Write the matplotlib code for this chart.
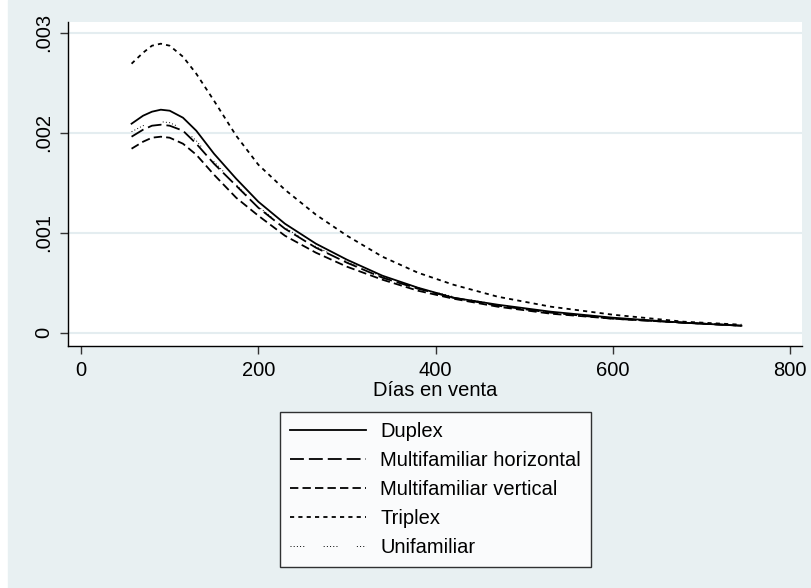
import matplotlib
matplotlib.use("Agg")
import matplotlib.pyplot as plt
from matplotlib.patches import Rectangle

plt.rcParams['font.family'] = ['Liberation Sans', 'DejaVu Sans']
plt.rcParams['lines.scale_dashes'] = False

# data (kernel density of days on sale)
dias = [57, 70, 80, 90, 100, 115, 130, 150, 175, 200, 230, 265, 300, 340, 380, 420, 470, 530, 600, 680, 745]
duplex = [0.00209, 0.00217, 0.00221, 0.00223, 0.00222, 0.00215, 0.00202, 0.00179, 0.00154, 0.00131, 0.00109,
          0.00089, 0.00073, 0.00057, 0.00045, 0.00035, 0.00028, 0.00021, 0.00015, 0.00010, 0.00007]
multi_horiz = [0.00196, 0.00203, 0.00207, 0.00208, 0.00207, 0.00202, 0.00189, 0.00169, 0.00147, 0.00125, 0.00104,
               0.00085, 0.00070, 0.00055, 0.00044, 0.00035, 0.00027, 0.00020, 0.00014, 0.00010, 0.00007]
multi_vert = [0.00184, 0.00191, 0.00195, 0.00196, 0.00195, 0.00189, 0.00178, 0.00158, 0.00135, 0.00117, 0.00097,
              0.00080, 0.00066, 0.00053, 0.00042, 0.00034, 0.00026, 0.00019, 0.00014, 0.00010, 0.00007]
triplex = [0.00269, 0.00280, 0.00287, 0.00289, 0.00287, 0.00276, 0.00259, 0.00232, 0.00197, 0.00168, 0.00143,
           0.00118, 0.00097, 0.00076, 0.00060, 0.00048, 0.00036, 0.00026, 0.00018, 0.00011, 0.00008]
unifamiliar = [0.00201, 0.00207, 0.00210, 0.00211, 0.00210, 0.00204, 0.00192, 0.00171, 0.00148, 0.00126, 0.00105,
               0.00086, 0.00071, 0.00056, 0.00045, 0.00036, 0.00028, 0.00020, 0.00014, 0.00010, 0.00007]

xticks = [0, 200, 400, 600, 800]
yticks = [0, 0.001, 0.002, 0.003]
ylabels = ['0', '.001', '.002', '.003']

bg = '#e8f0f2'

fig = plt.figure(figsize=(8.12, 5.88), dpi=100, facecolor='white')
fig.add_artist(Rectangle((8 / 812, 0), 1, 1, transform=fig.transFigure, color=bg, zorder=-10))

ax = fig.add_axes([68 / 812, 1 - 346 / 588, (802 - 68) / 812, (346 - 22) / 588])
ax.set_facecolor('white')

ax.plot(dias, duplex, color='black', lw=1.3, label='Duplex')
ax.plot(dias, multi_horiz, color='black', lw=1.3, dashes=(10, 3.6), label='Multifamiliar horizontal')
ax.plot(dias, multi_vert, color='black', lw=1.3, dashes=(6, 3), label='Multifamiliar vertical')
ax.plot(dias, triplex, color='black', lw=1.3, dashes=(3, 3), label='Triplex')
ax.plot(dias, unifamiliar, color='black', lw=0.7,
        dashes=(0.7, 1.6, 0.7, 1.6, 0.7, 1.6, 0.7, 1.6, 0.7, 14), label='Unifamiliar')

ax.set_xlim(-14.7, 813.3)
ax.set_ylim(-0.000133, 0.003107)
ax.set_xticks(xticks)
ax.set_yticks(yticks)
ax.set_yticklabels(ylabels, rotation=90, va='center')
ax.tick_params(labelsize=14.5, length=5.5, width=1, color='#333333', pad=5)
ax.grid(axis='y', color='#e4edf0', lw=1.5)
ax.set_axisbelow(True)
for s in ['top', 'right']:
    ax.spines[s].set_visible(False)
for s in ['left', 'bottom']:
    ax.spines[s].set_linewidth(1)

ax.set_xlabel('Días en venta', fontsize=14.5, labelpad=1)

leg = ax.legend(loc='upper center', bbox_to_anchor=(435.5 / 812, 1 - 412 / 588), bbox_transform=fig.transFigure,
                fontsize=14.5, frameon=True, fancybox=False, edgecolor='black', handlelength=3.8,
                handletextpad=0.7, labelspacing=0.5, borderpad=0.5, borderaxespad=0)
leg.get_frame().set_linewidth(1)

fig.savefig('out.png', dpi=100, facecolor=fig.get_facecolor())
